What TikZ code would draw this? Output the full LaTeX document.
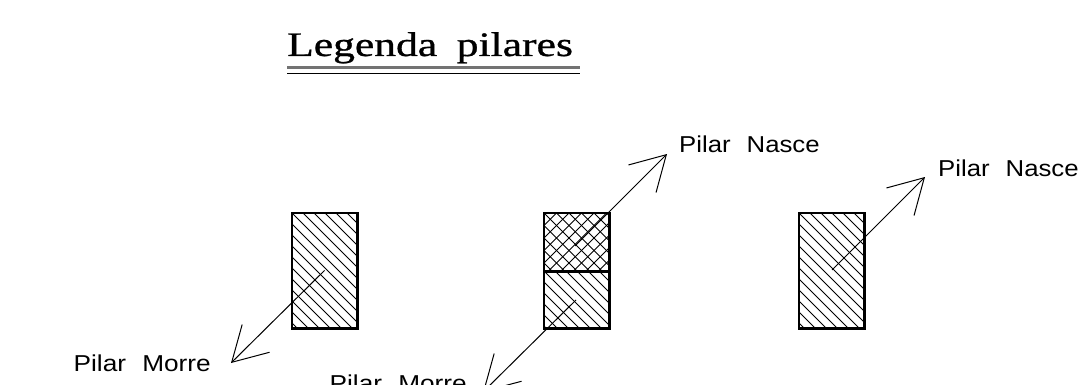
\documentclass[tikz,border=0pt]{standalone}
\usepackage{fontspec}
\setmainfont{Liberation Serif}
\newfontfamily\cadfont{Liberation Sans}
\newfontfamily\ttlfont[FakeBold=0.8]{Liberation Serif}
\usetikzlibrary{arrows.meta}
\begin{document}
\begin{tikzpicture}[x=1pt,y=-1pt,
  hatchline/.style={line width=0.8pt},
  outline/.style={line width=2.6pt},
  leader/.style={line width=1pt, -{Straight Barb[length=34pt,width=39pt]}},
  lbl/.style={inner sep=0pt, font=\cadfont\fontsize{23}{23}\selectfont},
  ttl/.style={inner sep=0pt, font=\ttlfont\fontsize{34.3}{36}\selectfont},
  pillar/.style={minimum width=65pt, inner sep=0pt},
]
\useasboundingbox (0,0) rectangle (1081,385);

% title
\node[ttl, anchor=base west] (title) at (287,56) {\scalebox{1.27}[1]{Legenda\hspace{0.45em}pilares}};
\draw[line width=2.4pt, black!55] (287,67.5) -- (580,67.5);
\draw[line width=1.2pt] (287,73.5) -- (580,73.5);

% pillar nodes
\node[pillar, minimum height=115pt] (p1) at (324.5,270.5) {};
\node[pillar, minimum height=58pt] (p2a) at (576.5,242) {};
\node[pillar, minimum height=57pt] (p2b) at (576.5,299.5) {};
\node[pillar, minimum height=115pt] (p3) at (831.5,270.5) {};

% hatching
\begin{scope}
  \clip (p1.north west) rectangle (p1.south east);
  \foreach \i in {-12,...,7} \draw[hatchline] (292+\i*11,213) -- ++(130,130);
\end{scope}
\begin{scope}
  \clip (p2b.north west) rectangle (p2b.south east);
  \foreach \i in {-7,...,7} \draw[hatchline] (544+\i*11,271) -- ++(70,70);
\end{scope}
\begin{scope}
  \clip (p2a.north west) rectangle (p2a.south east);
  \foreach \i in {-6,...,6} \draw[hatchline] (544+\i*12.5,213) -- ++(70,70);
  \foreach \i in {0,...,12} \draw[hatchline] (544+\i*12.5,213) -- ++(-70,70);
\end{scope}
\begin{scope}
  \clip (p3.north west) rectangle (p3.south east);
  \foreach \i in {-12,...,7} \draw[hatchline] (799+\i*11,213) -- ++(130,130);
\end{scope}

% outlines
\draw[outline] (p1.north west) rectangle (p1.south east);
\draw[outline] (p2a.north west) rectangle (p2b.south east);
\draw[outline] (p2a.south west) -- (p2a.south east);
\draw[outline] (p3.north west) rectangle (p3.south east);

% leader coordinates
\coordinate (s1) at (324.5,270.5);
\coordinate (t1) at (231,363);
\coordinate (s2) at (576,300);
\coordinate (t2) at (483,392);
\coordinate (s3) at (575,246);
\coordinate (t3) at (667,154);
\coordinate (s4) at (832,270);
\coordinate (t4) at (925,177);

\draw[leader] (s1) -- (t1);
\draw[leader] (s2) -- (t2);
\draw[leader] (s3) -- (t3);
\draw[leader] (s4) -- (t4);

% labels
\node[lbl, anchor=base east] (m1) at (211,371) {\scalebox{1.14}[1]{Pilar\hspace{0.62em}Morre}};
\node[lbl, anchor=base east] (m2) at (467,391) {\scalebox{1.14}[1]{Pilar\hspace{0.62em}Morre}};
\node[lbl, anchor=base west] (n1) at (679,153) {\scalebox{1.12}[1]{Pilar\hspace{0.62em}Nasce}};
\node[lbl, anchor=base west] (n2) at (938,176) {\scalebox{1.12}[1]{Pilar\hspace{0.62em}Nasce}};
\end{tikzpicture}
\end{document}
